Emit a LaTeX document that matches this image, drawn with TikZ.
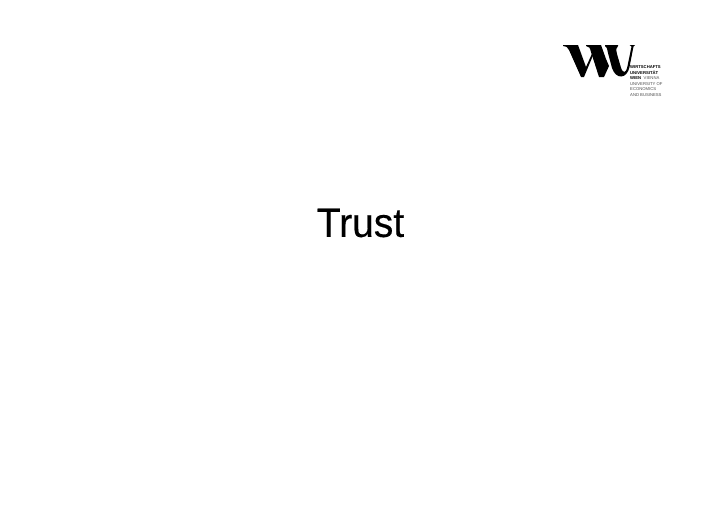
\documentclass[tikz,border=0pt]{standalone}
\usepackage{fontspec}
\setmainfont{Liberation Sans}
\newfontfamily\titlefont[FakeBold=0.25,FakeStretch=0.95]{Liberation Sans}
\tikzset{
  logoink/.style={fill=black,draw=none},
  logoline/.style={anchor=west,inner sep=0pt,font=\fontsize{4.2}{5}\selectfont,text=black!70},
  logobold/.style={logoline,font=\fontsize{4.2}{5}\selectfont\bfseries,text=black},
  title/.style={inner sep=0pt,font=\titlefont\fontsize{41}{44}\selectfont,text=black}
}
\begin{document}
\begin{tikzpicture}[x=1pt,y=-1pt]
\useasboundingbox[fill=white] (0,0) rectangle (720,509);
% first V of the W
\fill[logoink] (563,45) -- (578,45) -- (586,67) -- (595,47) -- (596.5,47) -- (584,77) -- (581,77) -- (569,50) .. controls (567.5,47) and (566,46) .. (563,46) -- cycle;
% second V of the W
\fill[logoink] (586,45) -- (601,45) -- (606,59) -- (609,66) -- (604,77) -- (599,77) -- (591,52) .. controls (590,48) and (589,46) .. (586,46) -- cycle;
% U
\fill[logoink] (605,45) -- (618,45) -- (618,46) .. controls (616,47) and (616,50) .. (617,54) -- (620.5,66) .. controls (622.5,74) and (626,74) .. (627.5,66) -- (631.5,46.5) -- (629.5,45) -- (635,45) -- (633.5,46.5) -- (629.5,67) .. controls (627,79) and (616,80) .. (612,68) -- (608,53) .. controls (607,48) and (606.5,46.5) .. (605,46) -- cycle;
\node[logobold] (l1) at (630,67) {WIRTSCHAFTS};
\node[logobold] (l2) at (630,73) {UNIVERSITÄT};
\node[logobold] (l3) at (630,78.5) {WIEN};
\node[logoline] (l3b) at (643.5,78.5) {VIENNA};
\node[logoline] (l4) at (630,84) {UNIVERSITY OF};
\node[logoline] (l5) at (630,89.5) {ECONOMICS};
\node[logoline] (l6) at (630,95) {AND BUSINESS};
\node[title] (t) at (360.5,223) {Trust};
\end{tikzpicture}
\end{document}
